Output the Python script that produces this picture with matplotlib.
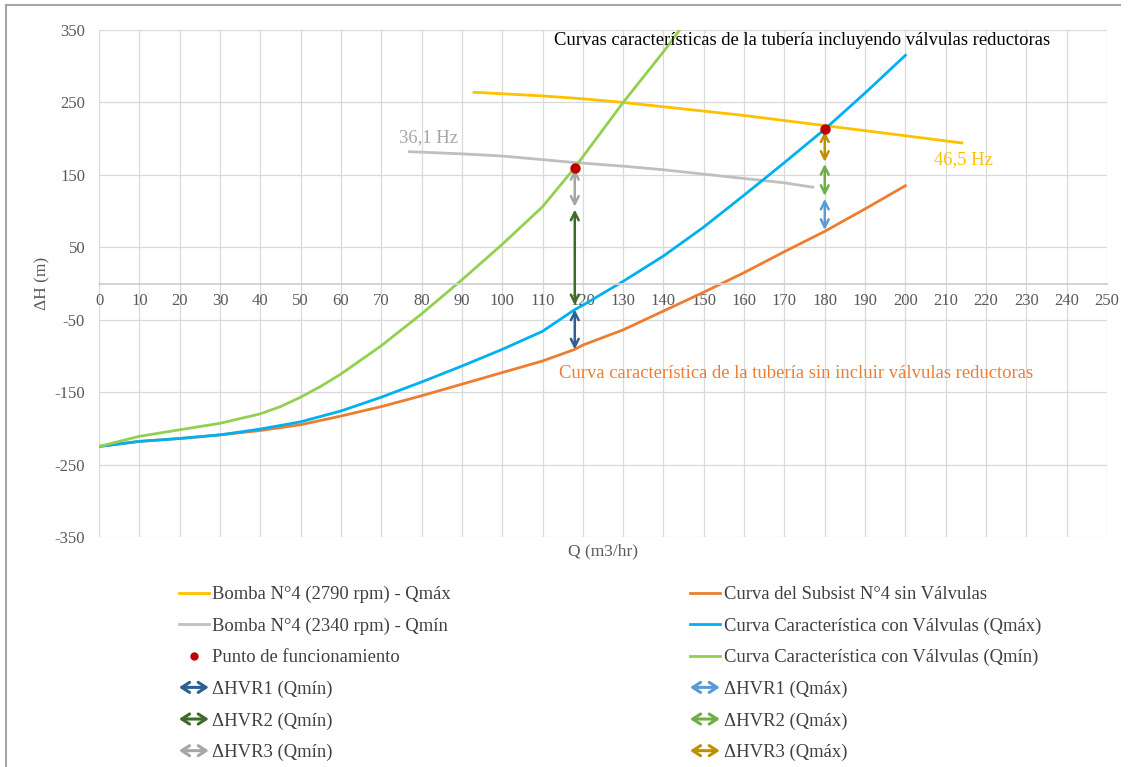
"""Curvas características de la tubería con y sin válvulas reductoras."""
import matplotlib
matplotlib.use('Agg')
import matplotlib.pyplot as plt
from matplotlib.lines import Line2D
from matplotlib.patches import FancyArrowPatch, ArrowStyle
from matplotlib.legend_handler import HandlerBase
import numpy as np

plt.rcParams['font.family'] = ['Liberation Serif', 'DejaVu Serif']
plt.rcParams['axes.unicode_minus'] = False

# Curvas del sistema (Q en m3/hr, H en m)
q_sist = [0, 10, 20, 30, 40, 50, 60, 70, 80, 90, 100, 110, 118, 120, 130, 140, 150, 160, 170, 180, 190, 200]
h_sin_valv = [-225, -218, -214, -209, -203, -195, -183, -170, -155, -139, -123, -107, -91, -85, -64, -38, -12, 15, 44, 72, 103, 135]
h_valv_qmax = [-225, -218, -214, -209, -201, -191, -176, -157, -136, -114, -91, -66, -36, -30, 3, 38, 78, 122, 167, 213, 263, 315]

q_valv_qmin = [0, 10, 20, 30, 40, 45, 50, 55, 60, 70, 80, 90, 100, 110, 118, 130, 140, 150]
h_valv_qmin = [-225, -211, -202, -193, -180, -170, -157, -142, -125, -86, -42, 5, 54, 106, 160, 250, 320, 395]

# Curvas de la bomba N°4
q_bomba_max = [93, 100, 110, 120, 130, 140, 150, 160, 170, 180, 190, 200, 214]
h_bomba_max = [264, 262, 259, 255, 250, 244, 238, 232, 225, 218, 211, 204, 194]
q_bomba_min = [77, 90, 100, 110, 118, 130, 140, 150, 160, 170, 177]
h_bomba_min = [182, 179, 176, 171, 167, 162, 157, 151, 145, 139, 133]

# Puntos de funcionamiento
q_punto = [118, 180]
h_punto = [160, 213]

# Pérdidas en válvulas reductoras: (H inicio, H fin)
q_qmin = 118
dhvr_qmin = {'ΔHVR1 (Qmín)': (-36, -91), 'ΔHVR2 (Qmín)': (-30, 102), 'ΔHVR3 (Qmín)': (106, 158)}
q_qmax = 180
dhvr_qmax = {'ΔHVR1 (Qmáx)': (117, 74), 'ΔHVR2 (Qmáx)': (121, 165), 'ΔHVR3 (Qmáx)': (168, 210)}

col_qmin = ['#2E5F93', '#3F6B2A', '#A6A6A6']
col_qmax = ['#5B9BD5', '#70AD47', '#BF9000']

GRIS_TXT = '#595959'
FS = 13.4


class ArrowHandler(HandlerBase):
    """Dibuja una flecha doble en la leyenda."""
    def create_artists(self, legend, orig_handle, xdescent, ydescent,
                       width, height, fontsize, trans):
        y = height / 2 - ydescent
        estilo = ArrowStyle('<->', head_length=0.4, head_width=0.26)
        arr = FancyArrowPatch((-xdescent, y), (-xdescent + width, y),
                              arrowstyle=estilo, mutation_scale=14, lw=2.2,
                              color=orig_handle.get_color(),
                              shrinkA=0, shrinkB=0, transform=trans)
        return [arr]


fig = plt.figure(figsize=(11.29, 7.67), dpi=100)
ax = fig.add_axes([99 / 1129, 1 - 537 / 767, 1008 / 1129, 507 / 767])

lw = 2.0
l_bmax, = ax.plot(q_bomba_max, h_bomba_max, color='#FFC000', lw=lw, label='Bomba N°4 (2790 rpm) - Qmáx')
l_bmin, = ax.plot(q_bomba_min, h_bomba_min, color='#BFBFBF', lw=lw, label='Bomba N°4 (2340 rpm) - Qmín')
l_sin, = ax.plot(q_sist, h_sin_valv, color='#ED7D31', lw=lw, label='Curva del Subsist N°4 sin Válvulas')
l_qmax, = ax.plot(q_sist, h_valv_qmax, color='#00B0F0', lw=lw, label='Curva Característica con Válvulas (Qmáx)')
l_qmin, = ax.plot(q_valv_qmin, h_valv_qmin, color='#92D050', lw=lw, label='Curva Característica con Válvulas (Qmín)')

# Flechas de pérdidas
arrow_proxies_min = []
for (lab, (h1, h2)), c in zip(dhvr_qmin.items(), col_qmin):
    ax.annotate('', xy=(q_qmin, h2), xytext=(q_qmin, h1),
                arrowprops=dict(arrowstyle='<->', color=c, lw=1.8, mutation_scale=14,
                                shrinkA=0, shrinkB=0), zorder=4)
    arrow_proxies_min.append(Line2D([], [], color=c, label=lab))
arrow_proxies_max = []
for (lab, (h1, h2)), c in zip(dhvr_qmax.items(), col_qmax):
    ax.annotate('', xy=(q_qmax, h2), xytext=(q_qmax, h1),
                arrowprops=dict(arrowstyle='<->', color=c, lw=1.8, mutation_scale=14,
                                shrinkA=0, shrinkB=0), zorder=4)
    arrow_proxies_max.append(Line2D([], [], color=c, label=lab))

l_punto, = ax.plot(q_punto, h_punto, 'o', color='#C00000', ms=6.5, zorder=5,
                   label='Punto de funcionamiento', linestyle='none')

# Textos
ax.text(174.4, 336, 'Curvas características de la tubería incluyendo válvulas reductoras',
        ha='center', va='center', fontsize=FS, color='black')
ax.text(81.6, 202, '36,1 Hz', ha='center', va='center', fontsize=FS, color='#A6A6A6')
ax.text(214.3, 170.5, '46,5 Hz', ha='center', va='center', fontsize=FS, color='#FFC000')
ax.text(172.9, -123.6, 'Curva característica de la tubería sin incluir válvulas reductoras',
        ha='center', va='center', fontsize=FS, color='#ED7D31')

# Ejes
ax.set_xlim(0, 250)
ax.set_ylim(-350, 350)
ax.set_xticks(np.arange(0, 251, 10))
ax.set_yticks(np.arange(-350, 351, 100))
for s in ['top', 'right', 'left']:
    ax.spines[s].set_visible(False)
ax.spines['bottom'].set_position(('data', 0))
ax.spines['bottom'].set_color('#D0D0D0')
ax.spines['bottom'].set_linewidth(1.3)
ax.tick_params(axis='both', length=0, labelsize=12, labelcolor=GRIS_TXT)
ax.tick_params(axis='x', pad=7)
ax.tick_params(axis='y', pad=10)
ax.grid(True, color='#D9D9D9', lw=0.9)
ax.set_axisbelow(True)

ax.set_xlabel('Q (m3/hr)', fontsize=12.5, color=GRIS_TXT)
ax.xaxis.set_label_coords(0.5, -0.012)
ax.set_ylabel('ΔH (m)', fontsize=12.5, color=GRIS_TXT)
ax.yaxis.set_label_coords(-0.048, 0.5)

# Leyenda en dos columnas
hmap = {p: ArrowHandler() for p in arrow_proxies_min + arrow_proxies_max}
izq = [l_bmax, l_bmin, l_punto] + arrow_proxies_min
der = [l_sin, l_qmax, l_qmin] + arrow_proxies_max
leg_kw = dict(frameon=False, fontsize=FS, handlelength=1.6, handletextpad=0.2,
              labelspacing=0.77, labelcolor='#404040', handler_map=hmap,
              borderpad=0, borderaxespad=0, loc='upper left')
leg1 = fig.legend(handles=izq, bbox_to_anchor=(179 / 1129, 1 - 586 / 767), **leg_kw)
leg2 = fig.legend(handles=der, bbox_to_anchor=(690 / 1129, 1 - 586 / 767), **leg_kw)
for leg in (leg1, leg2):
    for h in leg.legend_handles:
        if isinstance(h, Line2D) and h.get_marker() == 'o':
            h.set_markersize(5)

# Borde del gráfico (recortado)
fig.add_artist(Line2D([6 / 1129, 6 / 1129], [0, 1 - 5 / 767], color='#A6A6A6', lw=1.5,
                      transform=fig.transFigure))
fig.add_artist(Line2D([6 / 1129, 1120 / 1129], [1 - 5 / 767, 1 - 5 / 767], color='#A6A6A6', lw=1.5,
                      transform=fig.transFigure))

fig.savefig('out.png', dpi=100)
plt.close(fig)
